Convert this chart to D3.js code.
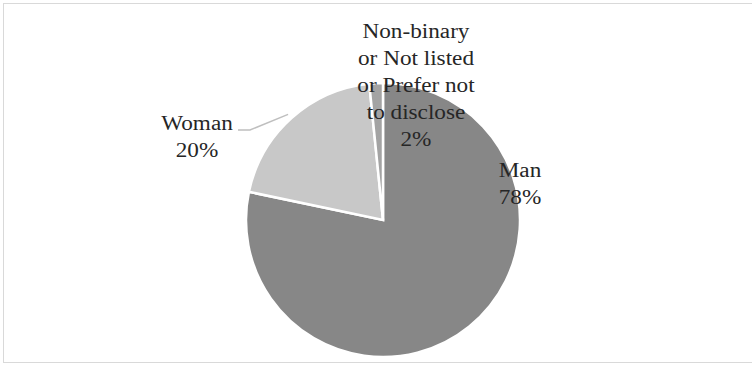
<!DOCTYPE html>
<html>
<head>
<meta charset="utf-8">
<script src="https://cdn.jsdelivr.net/npm/d3@7"></script>
<style>
  body { margin: 0; background: #fff; }
  svg { display: block; }
</style>
</head>
<body>
<svg id="chart" width="752" height="366"></svg>
<script>
// categories and their shares (labels show rounded percentages)
const categories = ["Man", "Woman", "Non-binary or Not listed or Prefer not to disclose"];
const labelLines = [["Man"], ["Woman"], ["Non-binary", "or Not listed", "or Prefer not", "to disclose"]];
const values = [78.3, 20.1, 1.6];
const colors = ["#878787", "#c8c8c8", "#a3a3a3"];

const width = 752, height = 366;
const cx = 383, cy = 220, radius = 137;

const svg = d3.select("#chart");

// outer frame
svg.append("rect")
  .attr("x", 3.5).attr("y", 3.5)
  .attr("width", width + 10).attr("height", height - 4 - 3)
  .attr("fill", "none")
  .attr("stroke", "#d9d9d9")
  .attr("stroke-width", 1);

const pie = d3.pie().sort(null).value(d => d);
const arcs = pie(values);
const arc = d3.arc().innerRadius(0).outerRadius(radius);

const g = svg.append("g").attr("transform", `translate(${cx},${cy})`);

g.selectAll("path")
  .data(arcs)
  .join("path")
  .attr("d", arc)
  .attr("fill", (d, i) => colors[i])
  .attr("stroke", "#fff")
  .attr("stroke-width", 2.5)
  .attr("stroke-linejoin", "miter");

// label placement (layout only): center x and first baseline
const labelPos = [
  { x: 520, y: 177 },
  { x: 197, y: 130 },
  { x: 416, y: 38 }
];
const lineH = 27;
const stretch = 1.16;

arcs.forEach((a, i) => {
  const lines = labelLines[i].concat([Math.round(values[i]) + "%"]);
  svg.append("g").selectAll("text")
    .data(lines)
    .join("text")
    .attr("x", labelPos[i].x)
    .attr("y", (d, j) => labelPos[i].y + j * lineH)
    .attr("text-anchor", "middle")
    .attr("font-family", "Liberation Serif")
    .attr("font-size", 20)
    .attr("fill", "#262626")
    .text(d => d)
    .each(function () {
      const len = this.getComputedTextLength();
      d3.select(this)
        .attr("textLength", len * stretch)
        .attr("lengthAdjust", "spacingAndGlyphs");
    });
});

// leader line for Woman label
const w = arcs[1];
const mid = (w.startAngle + w.endAngle) / 2;
const endR = radius + 5;
const ex = cx + Math.sin(mid) * endR, ey = cy - Math.cos(mid) * endR;
svg.append("path")
  .attr("d", d3.line()([[238, 130], [250, 130], [ex, ey]]))
  .attr("fill", "none")
  .attr("stroke", "#bfbfbf")
  .attr("stroke-width", 1.5);
</script>
</body>
</html>
